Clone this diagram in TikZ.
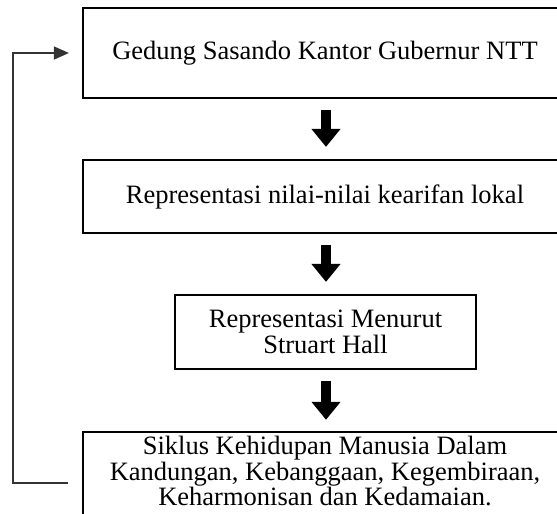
\documentclass[tikz,border=0pt]{standalone}
\usepackage{fontspec}
\setmainfont{Liberation Serif}
\usetikzlibrary{arrows.meta}
\begin{document}
\begin{tikzpicture}[x=1pt,y=-1pt,
  txt/.style={inner sep=0pt, align=center, font=\fontsize{26.5}{25.5}\selectfont},
  box/.style={txt, draw, line width=2.2pt},
  frame/.style={line width=2.2pt},
  blockarrow/.style={line width=10pt, -{Triangle[width=28pt,length=18pt]},
    shorten <=11pt, shorten >=12pt},
  feedback/.style={line width=1.4pt, draw=black!80, -{Triangle[width=13pt,length=15pt]}}]
\useasboundingbox (0,0) rectangle (557,514);
\clip (0,0) rectangle (557,514);
\node[box, minimum width=484pt, minimum height=90pt] (b1) at (325,53)
  {Gedung Sasando Kantor Gubernur NTT};
\node[box, minimum width=484pt, minimum height=73pt] (b2) at (325,196.5)
  {Representasi nilai-nilai kearifan lokal};
\node[box, minimum width=301pt, minimum height=74pt] (b3) at (325.5,332)
  {Representasi Menurut\\Struart Hall};
\node[txt, minimum width=484pt, minimum height=78pt] (b4) at (325,471)
  {Siklus Kehidupan Manusia Dalam\\Kandungan, Kebanggaan, Kegembiraan,\\Keharmonisan dan Kedamaian.};
\draw[frame] ([yshift=-30pt]b4.south west) rectangle (b4.north east);
\draw[blockarrow] (b1.south -| 326,0) -- (b2.north -| 326,0);
\draw[blockarrow] (b2.south -| 326,0) -- (b3.north -| 326,0);
\draw[blockarrow] (b3.south -| 326,0) -- (b4.north -| 326,0);
\coordinate (fbs) at (68,483);
\coordinate (fbc) at (13,483);
\draw[feedback] (fbs) -- (fbc) |- ([xshift=-13pt]b1.west);
\end{tikzpicture}
\end{document}
